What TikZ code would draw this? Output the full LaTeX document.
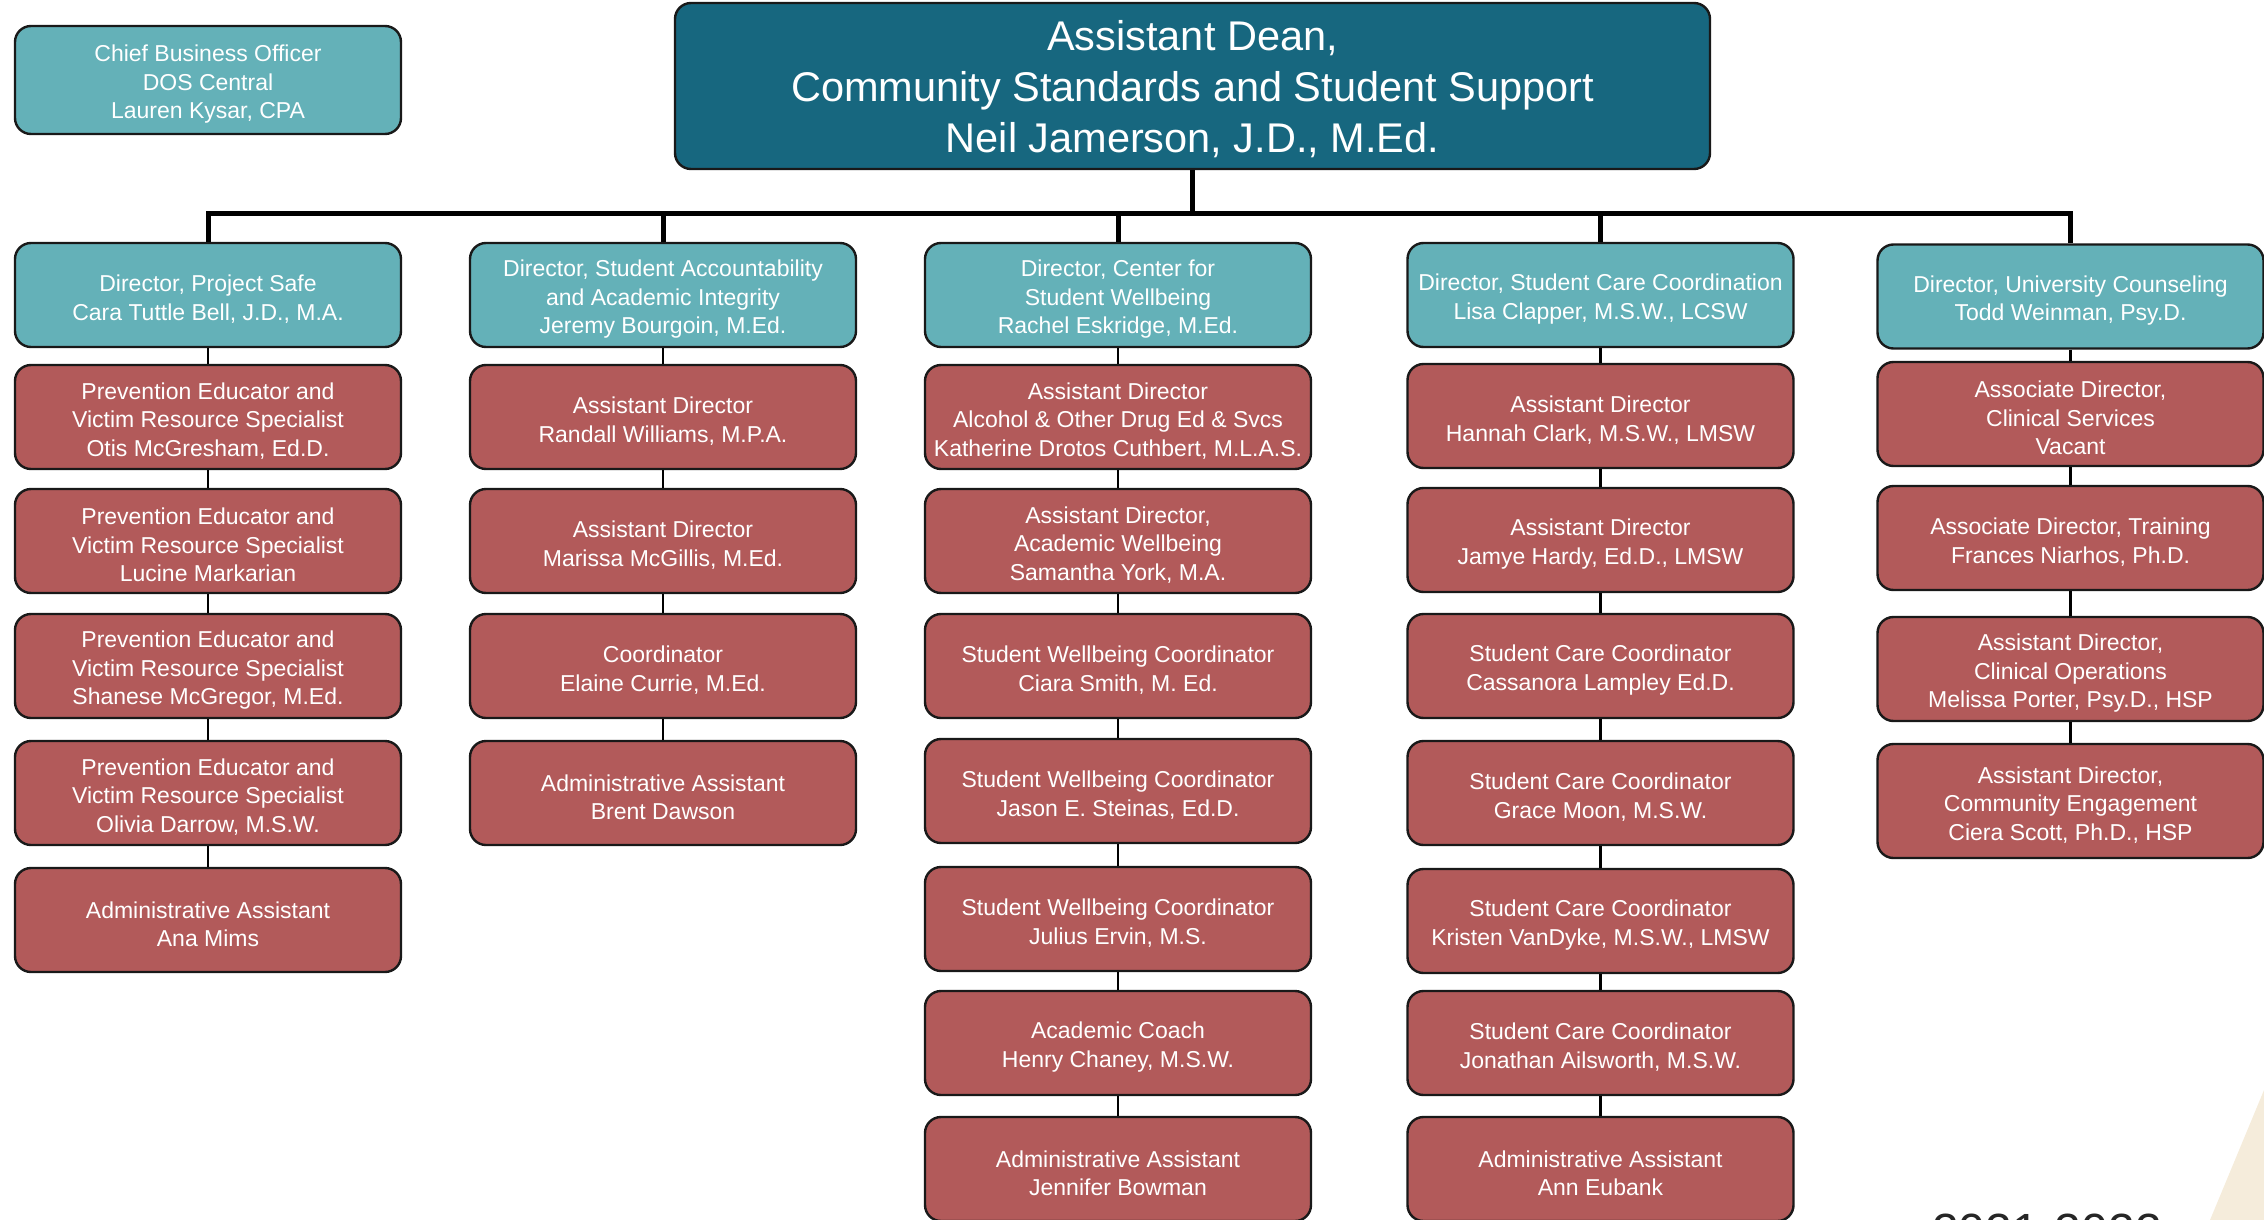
\documentclass[tikz,border=0pt]{standalone}
\usepackage{fontspec}
\setmainfont{Liberation Sans}
\definecolor{dirc}{HTML}{64B1B8}
\definecolor{staffc}{HTML}{B25A5A}
\definecolor{topc}{HTML}{17677F}
\definecolor{beigec}{HTML}{F5ECDB}
\newcommand{\ts}{\rule{0pt}{24.8pt}}
\newcommand{\tb}{\rule{0pt}{37pt}}
\begin{document}
\begin{tikzpicture}[x=1pt,y=-1pt,
  basebox/.style={draw=black!90, line width=2.4pt, rounded corners=16pt, text=white, align=center, inner sep=0pt,
    font=\fontsize{23}{28.5}\selectfont, minimum width=386pt, minimum height=104pt},
  dirbox/.style={basebox, fill=dirc},
  staffbox/.style={basebox, fill=staffc},
  topbox/.style={basebox, fill=topc, minimum width=1035pt, minimum height=166pt, font=\fontsize{41.5}{51}\selectfont},
  thinline/.style={line width=2.2pt, black},
  busline/.style={line width=5pt, black, line join=miter}
]
\useasboundingbox (0,0) rectangle (2264,1220);
\fill[beigec] (2210,1220) -- (2264,1090) -- (2264,1220) -- cycle;

% top
\node[topbox] (top) at (1192.5,86) {\tb Assistant Dean,\\Community Standards and Student Support\\Neil Jamerson, J.D., M.Ed.};
\node[dirbox, minimum height=108pt] (chief) at (208,80) {\ts Chief Business Officer\\DOS Central\\Lauren Kysar, CPA};

% directors
\node[dirbox] (d1) at (208,295) {\ts Director, Project Safe\\Cara Tuttle Bell, J.D., M.A.};
\node[dirbox] (d2) at (663,295) {\ts Director, Student Accountability\\and Academic Integrity\\Jeremy Bourgoin, M.Ed.};
\node[dirbox] (d3) at (1118,295) {\ts Director, Center for\\Student Wellbeing\\Rachel Eskridge, M.Ed.};
\node[dirbox] (d4) at (1600.5,295) {\ts Director, Student Care Coordination\\Lisa Clapper, M.S.W., LCSW};
\node[dirbox] (d5) at (2070.5,296.5) {\ts Director, University Counseling\\Todd Weinman, Psy.D.};

% column 1
\node[staffbox] (a1) at (208,417) {\ts Prevention Educator and\\Victim Resource Specialist\\Otis McGresham, Ed.D.};
\node[staffbox] (a2) at (208,541) {\ts Prevention Educator and\\Victim Resource Specialist\\Lucine Markarian};
\node[staffbox] (a3) at (208,666) {\ts Prevention Educator and\\Victim Resource Specialist\\Shanese McGregor, M.Ed.};
\node[staffbox] (a4) at (208,793) {\ts Prevention Educator and\\Victim Resource Specialist\\Olivia Darrow, M.S.W.};
\node[staffbox] (a5) at (208,920) {\ts Administrative Assistant\\Ana Mims};

% column 2
\node[staffbox] (b1) at (663,417) {\ts Assistant Director\\Randall Williams, M.P.A.};
\node[staffbox] (b2) at (663,541) {\ts Assistant Director\\Marissa McGillis, M.Ed.};
\node[staffbox] (b3) at (663,666) {\ts Coordinator\\Elaine Currie, M.Ed.};
\node[staffbox] (b4) at (663,793) {\ts Administrative Assistant\\Brent Dawson};

% column 3
\node[staffbox] (c1) at (1118,417) {\ts Assistant Director\\Alcohol \& Other Drug Ed \& Svcs\\Katherine Drotos Cuthbert, M.L.A.S.};
\node[staffbox] (c2) at (1118,541) {\ts Assistant Director,\\Academic Wellbeing\\Samantha York, M.A.};
\node[staffbox] (c3) at (1118,666) {\ts Student Wellbeing Coordinator\\Ciara Smith, M. Ed.};
\node[staffbox] (c4) at (1118,791) {\ts Student Wellbeing Coordinator\\Jason E. Steinas, Ed.D.};
\node[staffbox] (c5) at (1118,919) {\ts Student Wellbeing Coordinator\\Julius Ervin, M.S.};
\node[staffbox] (c6) at (1118,1043) {\ts Academic Coach\\Henry Chaney, M.S.W.};
\node[staffbox] (c7) at (1118,1169) {\ts Administrative Assistant\\Jennifer Bowman};

% column 4
\node[staffbox] (e1) at (1600.5,416) {\ts Assistant Director\\Hannah Clark, M.S.W., LMSW};
\node[staffbox] (e2) at (1600.5,540) {\ts Assistant Director\\Jamye Hardy, Ed.D., LMSW};
\node[staffbox] (e3) at (1600.5,666) {\ts Student Care Coordinator\\Cassanora Lampley Ed.D.};
\node[staffbox] (e4) at (1600.5,793) {\ts Student Care Coordinator\\Grace Moon, M.S.W.};
\node[staffbox] (e5) at (1600.5,921) {\ts Student Care Coordinator\\Kristen VanDyke, M.S.W., LMSW};
\node[staffbox] (e6) at (1600.5,1043) {\ts Student Care Coordinator\\Jonathan Ailsworth, M.S.W.};
\node[staffbox] (e7) at (1600.5,1169) {\ts Administrative Assistant\\Ann Eubank};

% column 5
\node[staffbox] (f1) at (2070.5,414) {\ts Associate Director,\\Clinical Services\\Vacant};
\node[staffbox] (f2) at (2070.5,538) {\ts Associate Director, Training\\Frances Niarhos, Ph.D.};
\node[staffbox] (f3) at (2070.5,669) {\ts Assistant Director,\\Clinical Operations\\Melissa Porter, Psy.D., HSP};
\node[staffbox, minimum height=114pt] (f4) at (2070.5,801) {\ts Assistant Director,\\Community Engagement\\Ciera Scott, Ph.D., HSP};

% connectors
\coordinate (bus) at (0,213);
\draw[busline] (top.south) -- (top.south |- bus);
\draw[busline] (d1.north) -- (d1.north |- bus) -- (d5.north |- bus) -- (d5.north);
\foreach \d in {d2,d3,d4} \draw[busline] (\d.north |- bus) -- (\d.north);
\foreach \u/\l in {d1/a1,a1/a2,a2/a3,a3/a4,a4/a5,
                   d2/b1,b1/b2,b2/b3,b3/b4,
                   d3/c1,c1/c2,c2/c3,c3/c4,c4/c5,c5/c6,c6/c7,
                   d4/e1,e1/e2,e2/e3,e3/e4,e4/e5,e5/e6,e6/e7,
                   d5/f1,f1/f2,f2/f3,f3/f4}
  \draw[thinline] (\u.south) -- (\l.north);

\node[anchor=base west, inner sep=0pt, font=\fontsize{48}{52}\selectfont, text=black!85] (year) at (1932,1247) {2021-2022};
\end{tikzpicture}
\end{document}
